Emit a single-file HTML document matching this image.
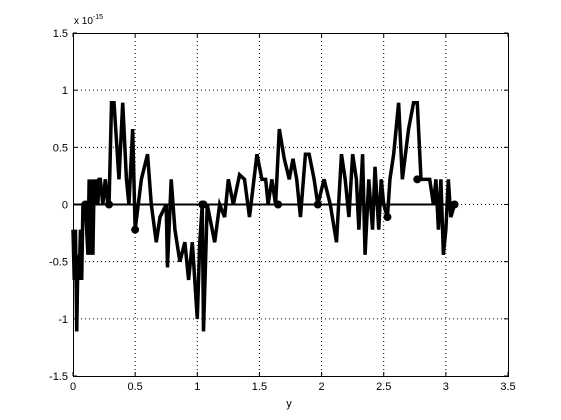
<!DOCTYPE html>
<html><head><meta charset="utf-8"><style>
body{margin:0;background:#fff;}
svg{display:block;font-family:"Liberation Sans",Arial,sans-serif;}
</style></head><body>
<svg id="chart" width="561" height="420" viewBox="0 0 561 420">
<rect x="0" y="0" width="561" height="420" fill="#fff"/>
<g id="grid"></g><g id="axes"></g><g id="series"></g>
</svg>
<script>
const xTicks=[0,0.5,1,1.5,2,2.5,3,3.5];
const xTickLabels=["0","0.5","1","1.5","2","2.5","3","3.5"];
const yTicks=[-1.5,-1,-0.5,0,0.5,1,1.5];
const yTickLabels=["-1.5","-1","-0.5","0","0.5","1","1.5"];
const xs=[0,0.01,0.02,0.03,0.04,0.05,0.06,0.07,0.08,0.09,0.1,0.12,0.13,0.14,0.15,0.16,0.17,0.18,0.19,0.2,0.21,0.22,0.24,0.26,0.28,0.29,0.31,0.33,0.37,0.4,0.43,0.45,0.48,0.5,0.55,0.6,0.63,0.67,0.7,0.75,0.76,0.79,0.82,0.86,0.9,0.93,0.96,1.0,1.02,1.04,1.05,1.08,1.14,1.18,1.22,1.25,1.29,1.34,1.38,1.42,1.48,1.52,1.55,1.57,1.6,1.63,1.66,1.7,1.74,1.77,1.8,1.83,1.87,1.9,1.94,1.97,2.02,2.07,2.12,2.16,2.19,2.22,2.25,2.28,2.3,2.33,2.35,2.38,2.41,2.43,2.46,2.48,2.5,2.53,2.55,2.58,2.62,2.65,2.7,2.74,2.77,2.8,2.83,2.87,2.9,2.92,2.94,2.96,2.98,3.0,3.02,3.04,3.07];
const ys=[-0.22,-0.66,-0.22,-1.11,-0.44,-0.66,-0.22,-0.66,0,0,0,-0.44,0.22,-0.44,0.22,-0.44,0.22,0,0.22,0,0.22,0.22,0,0.22,0,0,0.89,0.89,0.22,0.89,0.22,0,0.66,-0.22,0.22,0.44,0,-0.33,-0.11,0,-0.55,0.22,-0.22,-0.5,-0.33,-0.66,-0.33,-1.0,-0.33,0,-1.11,0,-0.33,0,-0.11,0.22,0,0.26,0.22,-0.11,0.44,0.22,0.22,0,0.22,0,0.66,0.4,0.22,0.4,0.22,-0.11,0.44,0.44,0.22,0,0.22,0,-0.33,0.44,0.22,-0.11,0.44,0.22,-0.22,0.44,-0.44,0.22,-0.22,0.33,-0.22,0.22,0,-0.11,0.22,0.44,0.89,0.22,0.66,0.89,0.89,0.22,0.22,0.22,0,0.22,-0.22,0.22,-0.44,-0.22,0.22,-0.11,0];
const markerX=[0.1,0.29,0.5,1.04,1.05,1.65,1.97,2.53,2.77,3.07];
const markerY=[0,0,-0.22,0,0,0,0,-0.11,0.22,0];
const L=73,R=508,T=33,B=376;
const sx=v=>L+(v-0)/(3.5-0)*(R-L);
const sy=v=>B-(v+1.5)/3*(B-T);
const NS="http://www.w3.org/2000/svg";
function mk(tag,attrs,parent){const e=document.createElementNS(NS,tag);for(const k in attrs)e.setAttribute(k,attrs[k]);parent.appendChild(e);return e;}
const grid=document.getElementById('grid'),axes=document.getElementById('axes'),ser=document.getElementById('series');
xTicks.forEach((t,i)=>{const x=sx(t);
 if(i>0&&i<xTicks.length-1){const g=mk('line',{x1:x,x2:x,y1:T,y2:B,stroke:'#000','stroke-width':1,'stroke-dasharray':'1,3'},grid);
 
 }
 mk('line',{x1:x,x2:x,y1:B,y2:B-4,stroke:'#000'},axes);
 mk('line',{x1:x,x2:x,y1:T,y2:T+4,stroke:'#000'},axes);
 const tx=mk('text',{x:x,y:B+14,'font-size':11,'text-anchor':'middle'},axes);tx.textContent=xTickLabels[i];
 
 
});
yTicks.forEach((t,i)=>{const y=sy(t);
 if(i>0&&i<yTicks.length-1){const g=mk('line',{x1:L,x2:R,y1:y,y2:y,stroke:'#000','stroke-width':1,'stroke-dasharray':'1,3'},grid);
 
 }
 mk('line',{x1:L,x2:L+4,y1:y,y2:y,stroke:'#000'},axes);
 mk('line',{x1:R,x2:R-4,y1:y,y2:y,stroke:'#000'},axes);
 const tx=mk('text',{x:L-5,y:y+4,'font-size':11,'text-anchor':'end'},axes);tx.textContent=yTickLabels[i];
 
 
});
const box=mk('rect',{x:L+0.5,y:T+0.5,width:R-L,height:B-T,fill:'none',stroke:'#000'},axes);


const ex=mk('text',{x:74,y:24,'font-size':10},axes);ex.innerHTML='x 10<tspan dy="-5" font-size="7">-15</tspan>';


const xl=mk('text',{x:289,y:407,'font-size':11,'text-anchor':'middle'},axes);xl.textContent='y';


const zl=mk('line',{x1:sx(0),x2:sx(3.07),y1:sy(0),y2:sy(0),stroke:'#000','stroke-width':2},ser);


const pl=mk('polyline',{points:xs.map((x,i)=>sx(x)+','+sy(ys[i])).join(' '),fill:'none',stroke:'#000','stroke-width':3.5,'stroke-linejoin':'miter'},ser);


markerX.forEach((x,i)=>{const c=mk('circle',{cx:sx(x),cy:sy(markerY[i]),r:4,fill:'#000'},ser);
 
 });
</script>
</body></html>
